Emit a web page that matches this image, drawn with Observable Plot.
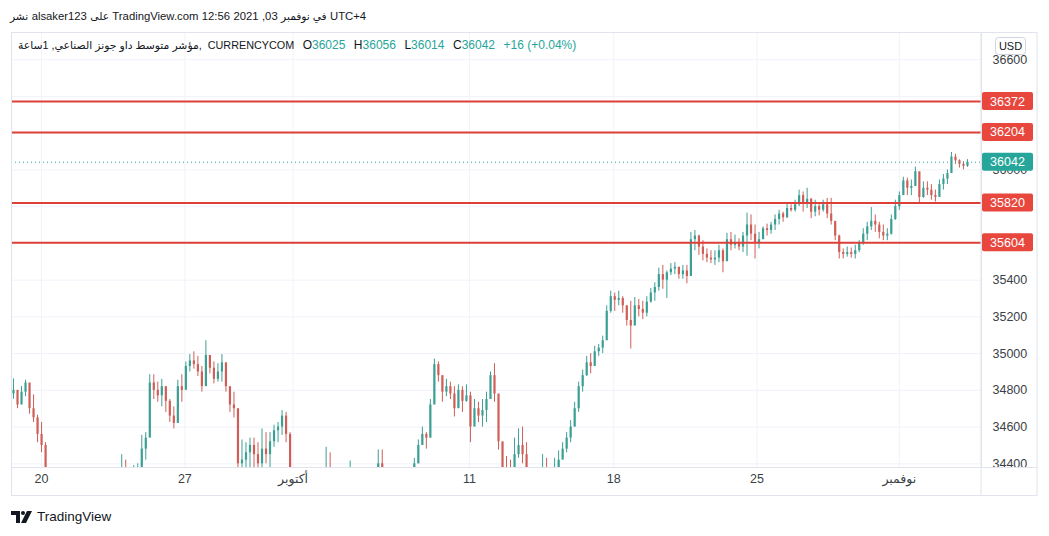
<!DOCTYPE html>
<html><head><meta charset="utf-8">
<script src="https://cdn.jsdelivr.net/npm/d3@7"></script>
<script src="https://cdn.jsdelivr.net/npm/@observablehq/plot@0.6"></script>
<style>
body{margin:0;background:#fff;font-family:"Liberation Sans","DejaVu Sans",sans-serif;}
#wrap{position:relative;width:1049px;height:536px;overflow:hidden;background:#fff;}
#hdr{position:absolute;left:10px;top:10px;font-size:11.3px;color:#131722;white-space:nowrap;direction:ltr;display:flex;gap:3.4px;}
#hdr span{unicode-bidi:isolate;display:inline-block;}
#hdr .ar{font-size:10.6px;}
#chart{position:absolute;left:0;top:32px;}
#legend{position:absolute;left:18px;top:38px;font-size:12px;color:#131722;white-space:nowrap;direction:ltr;}
#legend .ar{font-size:10.8px;}
#legend .ex{font-size:10.8px;margin-left:6px;}
#legend .v{color:#26a69a;}
#legend .k{margin-left:8.5px;}
#footer{position:absolute;left:11px;top:509px;display:flex;align-items:center;}
#footer span{font-size:13.5px;color:#131722;margin-left:4px;}
</style></head>
<body>
<div id="wrap">
  <div id="hdr"></div>
  <div id="chart"></div>
  <div id="legend"></div>
  <div id="footer">
    <svg width="22" height="14" viewBox="0 0 22 14"><path d="M0 1h9v12h-4v-8h-5z" fill="#131722"/><circle cx="12" cy="3" r="2" fill="#131722"/><path d="M16 1h5l-6 12h-5z" fill="#131722"/></svg>
    <span>TradingView</span>
  </div>
</div>
<script>
// ---------- data ----------
// header pieces as they read left to right on the picture: [text, isArabic]
const headerParts = [["نشر", true], ["alsaker123", false], ["على", true], ["TradingView.com", false], ["12:56", false], ["2021", false], [",03", false], ["في نوفمبر", true], ["UTC+4", false]];
const symbolTitle = "مؤشر متوسط داو جونز الصناعي, 1ساعة,";
const exchange = "CURRENCYCOM";
const ohlcLabels = ["O", "H", "L", "C"];
const ohlcValues = ["36025", "36056", "36014", "36042"];
const changeText = "+16 (+0.04%)";

const levels = [36372, 36204, 35820, 35604];
const lastPrice = 36042;
const gridTicks = [34400, 34600, 34800, 35000, 35200, 35400, 35600, 35800, 36000, 36200, 36400, 36600];
const labelTicks = [34400, 34600, 34800, 35000, 35200, 35400, 36000, 36600];
const xTickIndex = [7, 42.75, 69.75, 113.75, 149.75, 185.5, 221];
const xTickLabels = ["20", "27", "أكتوبر", "11", "18", "25", "نوفمبر"];
const firstOpen = 34780;

const close = [
 34800,34720,34790,34840,34700,34650,34560,34500,34360,
 34300,34250,34200,34150,34120,34150,34100,34080,34120,34150,34130,34180,34200,34160,34220,34250,34280,34300,
 34340,34330,34300,34330,34360,34480,34540,
 34840,34800,34770,34820,34740,34660,34620,34820,34800,34930,34960,34940,34900,34820,34990,34920,34860,34900,34950,34820,34720,34700,34400,34420,34460,34500,
 34450,34400,34480,34450,34520,34580,34600,34660,34560,34380,
 34300,34250,34220,34200,34230,34260,34280,34300,
 34380,34350,
 34280,34250,34270,34300,
 34330,
 34280,34240,34220,34250,34280,34300,
 34400,34380,
 34320,34280,34240,34220,34250,34290,34320,
 34400,34500,34560,34540,34720,34940,34880,34790,34820,34780,34700,34800,34740,34770,34600,34700,34660,34690,34750,34880,34780,34520,34380,
 34360,34350,34450,34500,34450,34380,
 34300,34280,34340,
 34380,34350,34320,34370,34420,34480,34540,34600,34700,34820,34880,34950,34930,35010,35030,35070,35230,35310,35290,35300,35260,35180,35150,35260,35240,35220,35280,35330,35360,35430,35400,35440,35460,35470,35430,35450,35420,35620,35640,35580,35540,35520,35510,35520,35560,35500,35620,35590,
 35600,35580,35640,35700,35650,35600,35620,35680,35670,35700,35730,35760,35740,35790,35780,35810,35860,35820,35840,35770,35800,35780,35810,35760,35720,35640,35550,35540,35550,35540,35560,35600,35650,35690,35720,35700,35660,35640,35650,35730,35800,35860,35940,35900,35910,35990,35850,35900,35890,35860,35850,35920,35950,35980,36070,36050,36030,36020,36042
];
const high = [
 34862,34765,34820,34855,34820,34775,34665,34625,34515,
 34340,34290,34250,34190,34170,34200,34150,34130,34170,34200,34180,34220,34250,34210,34260,34300,34320,34340,
 34450,34420,34360,34390,34400,34555,34570,
 34885,34885,34845,34860,34820,34750,34710,34855,34885,34955,34995,35010,34985,34930,35070,34985,34955,34945,34995,34930,34800,34790,34640,34530,34515,34540,
 34540,34515,34590,34570,34570,34610,34625,34690,34680,34570,
 34360,34300,34270,34250,34270,34300,34320,34340,
 34490,34460,
 34330,34300,34310,34350,
 34415,
 34330,34290,34260,34300,34320,34350,
 34475,34475,
 34360,34330,34290,34260,34300,34330,34360,
 34430,34530,34600,34570,34750,34970,34955,34870,34860,34845,34820,34830,34820,34830,34790,34750,34735,34750,34790,34900,34945,34750,34500,
 34440,34420,34540,34590,34600,34515,
 34360,34330,34380,
 34450,34430,34360,34430,34470,34515,34570,34635,34735,34845,34910,34985,35000,35040,35050,35095,35260,35340,35330,35340,35310,35260,35285,35305,35295,35285,35310,35355,35385,35465,35480,35450,35490,35495,35470,35480,35480,35660,35670,35645,35615,35570,35560,35560,35590,35570,35655,35660,
 35645,35625,35660,35765,35755,35700,35660,35690,35705,35715,35755,35780,35770,35820,35810,35835,35890,35880,35900,35845,35835,35815,35835,35845,35845,35715,35645,35570,35580,35575,35590,35615,35680,35715,35795,35755,35715,35700,35680,35755,35835,35880,35960,35955,35945,36015,35975,35935,35935,35920,35890,35945,35975,36000,36095,36085,36055,36045,36056
];
const low = [
 34752,34700,34735,34765,34670,34625,34515,34460,34330,
 34240,34190,34140,34090,34060,34090,34040,34020,34060,34090,34070,34120,34140,34100,34160,34190,34220,34240,
 34300,34280,34250,34290,34310,34390,34420,
 34570,34750,34735,34710,34680,34625,34590,34700,34735,34820,34900,34915,34875,34790,34845,34890,34835,34845,34845,34790,34680,34650,34330,34330,34330,34380,
 34330,34320,34330,34400,34340,34490,34515,34555,34515,34330,
 34240,34190,34160,34140,34170,34200,34220,34240,
 34300,34290,
 34220,34190,34210,34240,
 34270,
 34220,34180,34160,34190,34220,34240,
 34320,34320,
 34260,34220,34180,34160,34190,34230,34260,
 34300,34400,34500,34480,34540,34735,34845,34735,34765,34750,34655,34710,34680,34735,34515,34625,34625,34600,34625,34765,34735,34475,34330,
 34300,34300,34330,34430,34400,34320,
 34240,34220,34280,
 34300,34300,34260,34310,34330,34430,34460,34515,34600,34680,34790,34875,34890,34955,34985,35000,35120,35220,35230,35260,35220,35150,35025,35175,35200,35185,35200,35275,35285,35340,35350,35300,35425,35430,35405,35405,35380,35450,35560,35535,35505,35495,35490,35480,35495,35440,35535,35560,
 35570,35560,35550,35530,35615,35515,35570,35625,35640,35650,35670,35700,35715,35735,35770,35770,35800,35770,35790,35735,35745,35750,35770,35735,35700,35615,35515,35515,35525,35520,35515,35550,35590,35615,35670,35660,35625,35615,35615,35645,35725,35780,35890,35860,35860,35920,35820,35845,35860,35835,35825,35860,35890,35920,35990,36030,36010,36000,36014
];

// ---------- build ----------
const UP = "#3b9f93", DOWN = "#cf5e57", LEVEL = "#dd4038", LEVEL_BOX = "#e8473e", TEAL = "#26a69a";
const GRID = "#f0f3fa", BORDER = "#e0e3eb", AXIS_TEXT = "#3b3f47";
const FONT = "'Liberation Sans','DejaVu Sans',sans-serif";

const n = Math.min(close.length, high.length, low.length);
const candles = [];
for (let i = 0; i < n; i++) {
  const open = i ? close[i - 1] : firstOpen;
  candles.push({i, open, close: close[i], high: high[i], low: low[i], up: close[i] >= open});
}
const xTicks = xTickIndex.map((v, k) => ({i: v, label: xTickLabels[k]}));

document.getElementById("hdr").innerHTML = headerParts
  .map(([t, ar]) => `<span class="${ar ? "ar" : ""}" dir="${ar ? "rtl" : "ltr"}">${t}</span>`).join("");
const lg = document.getElementById("legend");
lg.innerHTML = `<span class="ar">${symbolTitle}</span><span class="ex">${exchange}</span>` +
  ohlcLabels.map((k, j) => `<span class="k">${k}<span class="v">${ohlcValues[j]}</span></span>`).join("") +
  `<span class="k v">${changeText}</span>`;

const plot = Plot.plot({
  width: 1049, height: 464,
  marginLeft: 11, marginRight: 68, marginTop: 0, marginBottom: 29,
  x: {domain: [-0.5, 241.5], axis: null},
  y: {domain: [34380, 36748], axis: null},
  style: {background: "transparent", fontFamily: FONT},
  marks: [
    Plot.gridY(gridTicks, {stroke: GRID, strokeOpacity: 1}),
    Plot.gridX(xTickIndex, {stroke: GRID, strokeOpacity: 1}),
    Plot.ruleX(candles, {x: "i", y1: "low", y2: "high", stroke: d => d.up ? UP : DOWN, strokeWidth: 1, clip: true}),
    Plot.ruleX(candles, {x: "i", y1: "open", y2: "close", stroke: d => d.up ? UP : DOWN, strokeWidth: 2.2, clip: true}),
    Plot.ruleY(levels, {stroke: LEVEL, strokeWidth: 2}),
    Plot.ruleY([lastPrice], {stroke: TEAL, strokeDasharray: "1,3", strokeWidth: 1}),
    Plot.frame({stroke: BORDER}),
    Plot.text(labelTicks, {y: d => d, text: d => String(d), frameAnchor: "right", dx: 11, textAnchor: "start", fill: AXIS_TEXT, fontSize: 12.5}),
    Plot.text(xTicks, {x: "i", text: "label", frameAnchor: "bottom", dy: 15, fill: AXIS_TEXT, fontSize: 12.5})
  ]
});
document.getElementById("chart").appendChild(plot);

// price labels and pane chrome, positioned through Plot's y scale
const svg = d3.select(plot);
const ys = plot.scale("y");
const g = svg.append("g");
const H = 464, right = 981, bottom = H - 29;
g.append("rect").attr("x", 11.5).attr("y", 0.5).attr("width", 1037 - 11.5).attr("height", H - 1).attr("fill", "none").attr("stroke", BORDER);
g.append("line").attr("x1", right).attr("x2", right).attr("y1", 0).attr("y2", H).attr("stroke", BORDER);
g.append("line").attr("x1", 11).attr("x2", 1037).attr("y1", bottom + 0.5).attr("y2", bottom + 0.5).attr("stroke", BORDER);
const boxes = levels.map(v => ({v, fill: LEVEL_BOX})).concat([{v: lastPrice, fill: TEAL}]);
for (const b of boxes) {
  const yy = ys.apply(b.v);
  g.append("rect").attr("x", right + 1).attr("y", yy - 9).attr("width", 51).attr("height", 18).attr("rx", 2).attr("fill", b.fill);
  g.append("text").attr("x", right + 26.5).attr("y", yy).attr("dy", "0.36em").attr("text-anchor", "middle")
    .attr("fill", "#fff").attr("font-size", 12.5).attr("font-family", FONT).text(String(b.v));
}
// USD button
g.append("rect").attr("x", 995.5).attr("y", 5.5).attr("width", 30).attr("height", 17).attr("rx", 3).attr("fill", "#fff").attr("stroke", "#d1d4dc");
g.append("text").attr("x", 1010.5).attr("y", 14).attr("dy", "0.36em").attr("text-anchor", "middle").attr("fill", "#131722")
  .attr("font-size", 11).attr("font-family", FONT).text("USD");
</script>
</body></html>
